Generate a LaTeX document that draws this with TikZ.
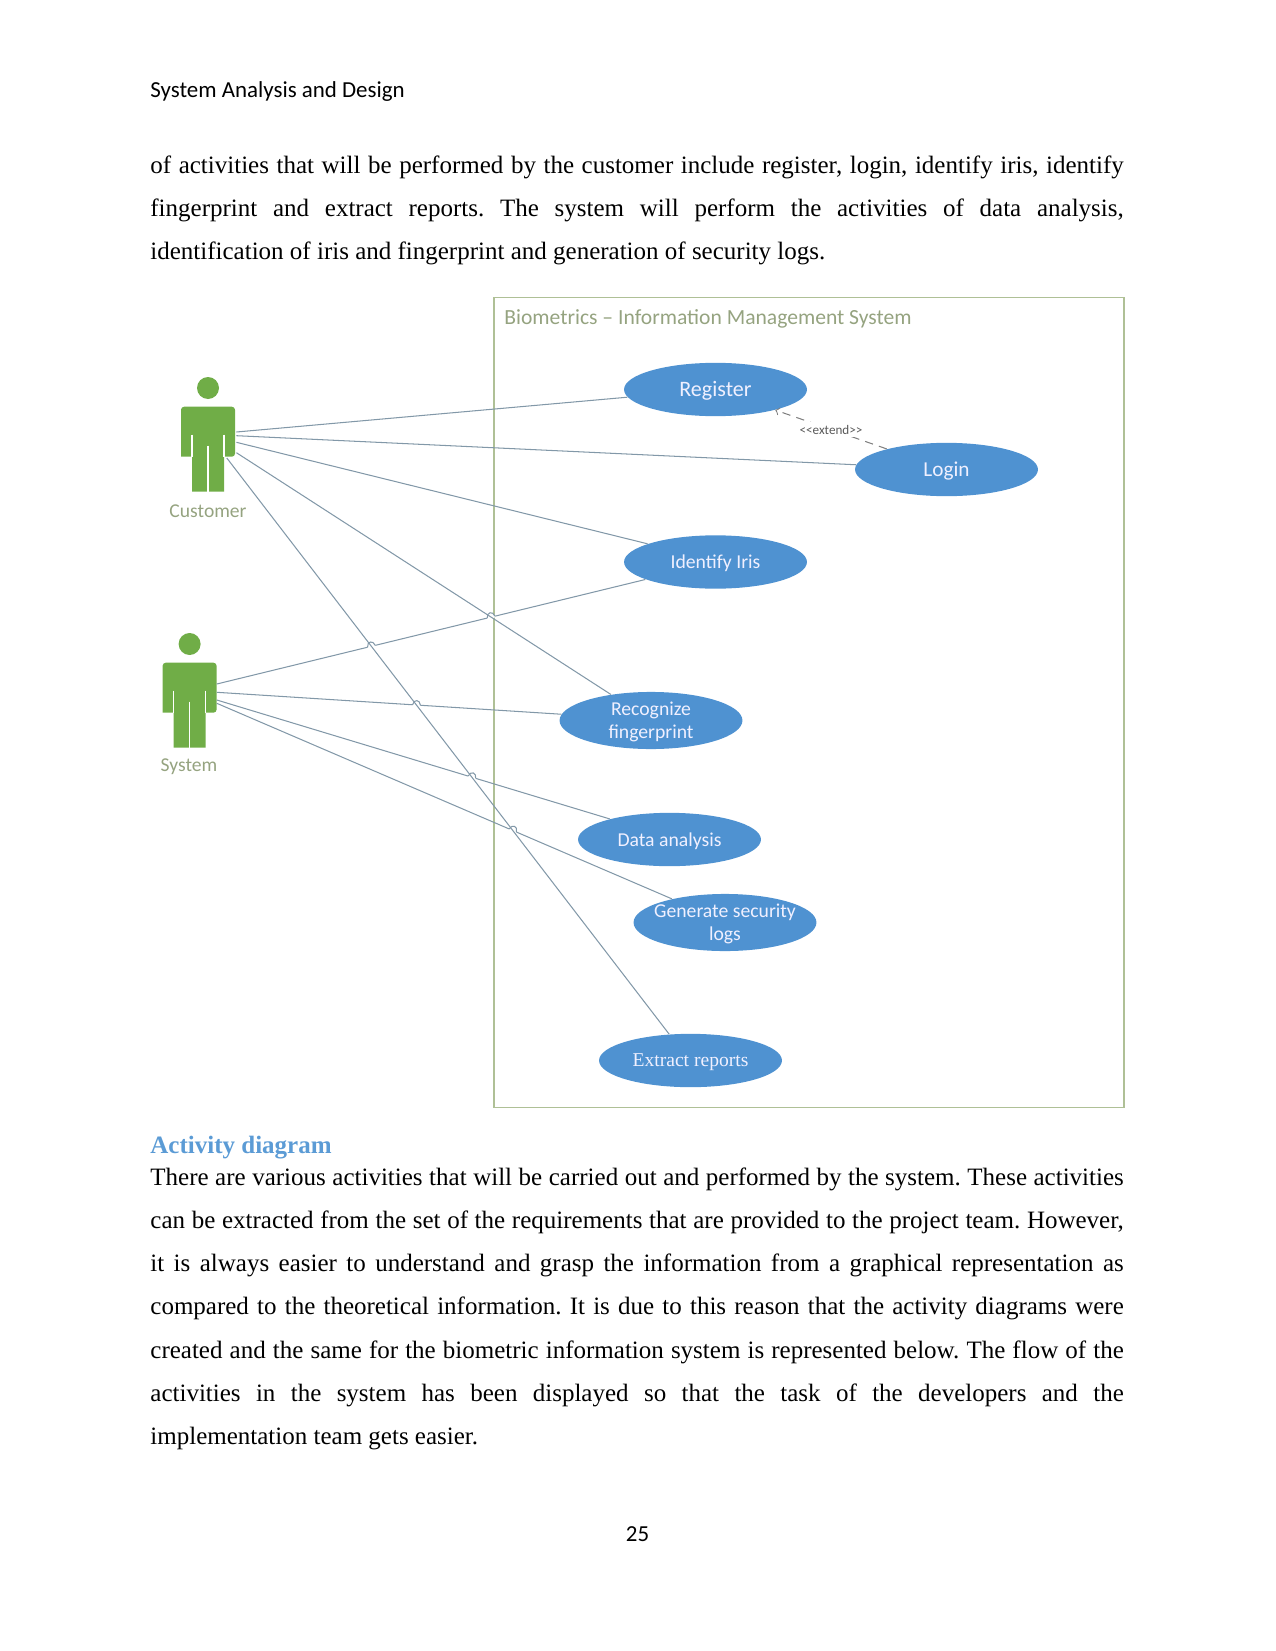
\documentclass[tikz,border=0pt]{standalone}
\usepackage{fontspec}
\setmainfont{Liberation Serif}
\newfontfamily\carlito{Carlito}
\usepackage{xcolor}
\usetikzlibrary{shapes,positioning,calc}
\definecolor{ucblue}{HTML}{4F92D1}
\definecolor{ucgreen}{HTML}{70AD47}
\definecolor{frameol}{HTML}{AFC096}
\definecolor{wirecol}{HTML}{8298A8}
\definecolor{headblue}{HTML}{5B9BD5}

% small hop of a connector over another one
\newcommand\linejump[2]{%
  \draw[white,line width=1.2pt,shift={(#1)},rotate=#2] (-4,0) -- (4,0);
  \draw[wire,shift={(#1)},rotate=#2] (-4,0) .. controls (-3,-6) and (3,-6) .. (4,0);
}

\begin{document}
\frenchspacing
\begin{tikzpicture}[x=.48pt,y=-.48pt,
    usecase/.style={ellipse,fill=ucblue,inner sep=0,minimum width=87.8pt,minimum height=25.6pt,
      label={[uctext]center:#1}},
    uctext/.style={text=blue!6!white,font=\carlito\fontsize{9.45}{10.9}\selectfont,align=center,inner sep=0,yshift=-.8pt},
    wire/.style={draw=wirecol,line width=.5pt},
    bodytext/.style={anchor=north west,inner sep=0,text width=467.2pt,align=justify,
      font=\fontsize{12}{20.78}\selectfont},
    actorname/.style={text=frameol!85!black,font=\carlito\fontsize{9.4}{10}\selectfont,inner sep=0},
    actor/.pic={
      \fill[ucgreen] (0,-18.7) circle[radius=11];
      \fill[ucgreen,rounded corners=1.5pt] (-27,50) -- (-27,0) -- (27,0) -- (27,50) [sharp corners] -- (16,50)
        -- (16,85) -- (-16,85) -- (-16,50) -- cycle;
      \draw[white,line width=.5pt] (-16,28) -- (-16,50) (16,28) -- (16,50) (0,39) -- (0,85);
    }]
  \useasboundingbox (0,0) rectangle (1275,1651);

  % page text
  \node(header)[anchor=west,inner sep=0,font=\carlito\fontsize{11}{13}\selectfont] at (150,92) {System Analysis and Design};
  \node(paratop)[bodytext] at (150,155) {of activities that will be performed by the customer include register, login, identify iris, identify\linebreak
    fingerprint and extract reports. The system will perform the activities of data analysis,\linebreak
    identification of iris and fingerprint and generation of security logs.};
  \node(acthead)[anchor=west,inner sep=0,text=headblue,font=\bfseries\fontsize{12}{15}\selectfont] at (150,1147.5) {Activity diagram};
  \node(parabot)[bodytext] at (150,1167) {There are various activities that will be carried out and performed by the system. These activities\linebreak
    can be extracted from the set of the requirements that are provided to the project team. However,\linebreak
    it is always easier to understand and grasp the information from a graphical representation as\linebreak
    compared to the theoretical information. It is due to this reason that the activity diagrams were\linebreak
    created and the same for the biometric information system is represented below. The flow of the\linebreak
    activities in the system has been displayed so that the task of the developers and the\linebreak
    implementation team gets easier.};
  \node(pageno)[inner sep=0,font=\carlito\fontsize{11}{13}\selectfont] at (637.5,1534) {25};

  % system boundary
  \node(boundary)[draw=frameol,line width=.8pt,minimum width=630*.48pt,minimum height=810*.48pt,inner sep=0] at (809,702.5) {};
  \node(boundname)[anchor=west,inner sep=0,text=frameol!85!black,font=\carlito\fontsize{10.36}{12}\selectfont] at (504,319) {Biometrics – Information Management System};

  % use cases
  \node(register)[usecase={\fontsize{10.6}{12}\selectfont Register}] at (715.5,389.5) {};
  \node(login)[usecase={\fontsize{10.2}{12}\selectfont Login}] at (946.5,469.5) {};
  \node(iris)[usecase=Identify Iris] at (715.5,562) {};
  \node(recog)[usecase={Recognize\\fingerprint},minimum height=27.4pt] at (651,720.5) {};
  \node(data)[usecase=Data analysis] at (669.5,839.5) {};
  \node(gen)[usecase={Generate security\\logs},minimum height=27.4pt] at (725,922.5) {};
  \node(extract)[usecase={\rmfamily\fontsize{9.4}{11}\selectfont Extract reports}] at (690.5,1060.5) {};

  % actors
  \pic at (208,406.7) {actor};
  \pic at (189.6,662.7) {actor};
  \node(customer)[actorname] at (208,511) {Customer};
  \node(system)[actorname] at (189,767) {System};

  % connector ends on the actors
  \node(custa)[coordinate] at (236.4,432) {};
  \node(custb)[coordinate] at (236.4,435.7) {};
  \node(custc)[coordinate] at (236.4,442.3) {};
  \node(custd)[coordinate] at (236.4,452.7) {};
  \node(custe)[coordinate] at (226.8,458) {};
  \node(sysa)[coordinate] at (216.8,684) {};
  \node(sysb)[coordinate] at (216.8,692.3) {};
  \node(sysc)[coordinate] at (216.8,700) {};
  \node(sysd)[coordinate] at (216.8,703.3) {};

  \draw[wire] (sysa) -- (iris.194);
  \draw[wire] (sysb) -- (recog.176);
  \draw[wire] (sysc) -- (data.161);
  \draw[wire] (sysd) -- (gen.156);
  \node(hopa)[coordinate] at (intersection of sysa--iris.194 and custd--recog.147) {};
  \node(hopb)[coordinate] at (intersection of sysa--iris.194 and custe--extract.129) {};
  \node(hopc)[coordinate] at (intersection of sysb--recog.176 and custe--extract.129) {};
  \node(hopd)[coordinate] at (intersection of sysc--data.161 and custe--extract.129) {};
  \node(hope)[coordinate] at (intersection of sysd--gen.156 and custe--extract.129) {};
  \linejump{hopa}{14}
  \linejump{hopb}{14}
  \linejump{hopc}{-4}
  \linejump{hopd}{-17}
  \linejump{hope}{-23}
  \draw[wire] (custa) -- (register.185);
  \draw[wire] (custb) -- (login.177);
  \draw[wire] (custc) -- (iris.165);
  \draw[wire] (custd) -- (recog.147);
  \draw[wire] (custe) -- (extract.129);

  \draw[wire,draw=gray,dash pattern=on 4pt off 3pt,->] (login.161) -- (register.-19)
    node[midway,fill=white,inner sep=1.5pt,text=black!65,font=\carlito\fontsize{6.3}{7}\selectfont] {<<extend>>};
\end{tikzpicture}
\end{document}
